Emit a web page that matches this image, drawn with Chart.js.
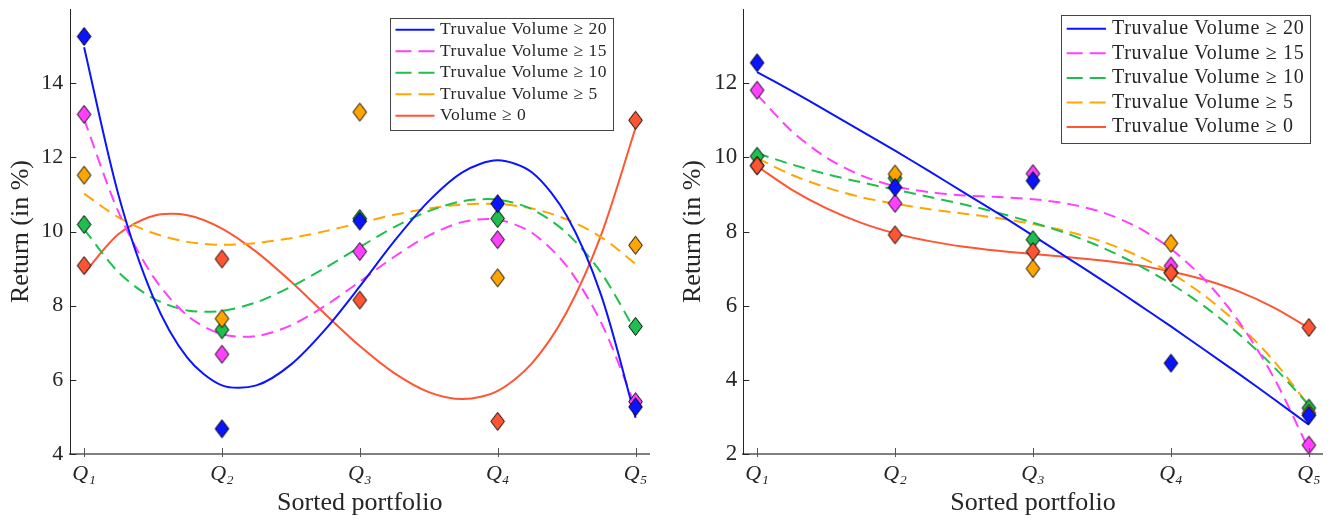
<!DOCTYPE html>
<html>
<head>
<meta charset="utf-8">
<script src="https://cdn.jsdelivr.net/npm/chart.js@4.4.1/dist/chart.umd.min.js"></script>
<style>
    body { margin: 0; background: #fff; overflow: hidden; }
    #wrap { position: relative; width: 1332px; height: 523px; }
    .panel { position: absolute; top: 0; width: 666px; height: 523px; }
</style>
</head>
<body>
<div id="wrap">
    <div class="panel" style="left:0"><canvas id="leftChart" width="666" height="523"></canvas></div>
    <div class="panel" style="left:666px"><canvas id="rightChart" width="666" height="523"></canvas></div>
</div>
<script>
// Quintile axis
const quintileLabels = ['Q₁', 'Q₂', 'Q₃', 'Q₄', 'Q₅'];
const quintileX = [1, 2, 3, 4, 5];
const fitX = [1, 1.25, 1.5, 1.75, 2, 2.25, 2.5, 2.75, 3, 3.25, 3.5, 3.75, 4, 4.25, 4.5, 4.75, 5];

const leftYTicks = [4, 6, 8, 10, 12, 14];
const rightYTicks = [2, 4, 6, 8, 10, 12];

const leftNames = ['Truvalue Volume ≥ 20', 'Truvalue Volume ≥ 15', 'Truvalue Volume ≥ 10', 'Truvalue Volume ≥ 5', 'Volume ≥ 0'];
const rightNames = ['Truvalue Volume ≥ 20', 'Truvalue Volume ≥ 15', 'Truvalue Volume ≥ 10', 'Truvalue Volume ≥ 5', 'Truvalue Volume ≥ 0'];

// Left panel - returns per quintile
const left20 = [15.26, 4.68, 10.28, 10.75, 5.27];
const left15 = [13.16, 6.69, 9.46, 9.78, 5.41];
const left10 = [10.19, 7.35, 10.35, 10.35, 7.44];
const left5 = [11.52, 7.65, 13.22, 8.75, 9.63];
const left0 = [9.08, 9.26, 8.15, 4.88, 13.0];

// Left panel - fitted curves
const left20Fit = [14.97, 10.98, 8.24, 6.59, 5.85, 5.85, 6.41, 7.36, 8.52, 9.74, 10.82, 11.61, 11.92, 11.59, 10.43, 8.29, 4.98];
const left15Fit = [13.03, 10.52, 8.79, 7.73, 7.23, 7.18, 7.47, 8.00, 8.65, 9.32, 9.89, 10.26, 10.32, 9.96, 9.07, 7.55, 5.28];
const left10Fit = [10.06, 8.90, 8.20, 7.87, 7.86, 8.09, 8.51, 9.02, 9.58, 10.12, 10.55, 10.82, 10.86, 10.60, 9.96, 8.89, 7.31];
const left5Fit = [11.02, 10.38, 9.96, 9.72, 9.64, 9.69, 9.82, 10.01, 10.23, 10.45, 10.62, 10.73, 10.74, 10.62, 10.33, 9.85, 9.13];
const left0Fit = [8.87, 9.93, 10.42, 10.44, 10.08, 9.45, 8.65, 7.77, 6.91, 6.18, 5.67, 5.48, 5.70, 6.45, 7.82, 9.90, 12.79];

// Right panel - returns per quintile
const right20 = [12.55, 9.19, 9.37, 4.45, 3.04];
const right15 = [11.81, 8.76, 9.56, 7.07, 2.24];
const right10 = [10.03, 9.44, 7.78, 6.90, 3.24];
const right5 = [9.78, 9.55, 7.00, 7.68, 3.10];
const right0 = [9.77, 7.91, 7.46, 6.88, 5.41];

// Right panel - fitted curves
const right20Fit = [12.30, 11.79, 11.26, 10.72, 10.18, 9.62, 9.05, 8.48, 7.89, 7.29, 6.69, 6.07, 5.44, 4.79, 4.14, 3.47, 2.79];
const right15Fit = [11.69, 10.71, 10.00, 9.52, 9.22, 9.06, 8.97, 8.93, 8.87, 8.75, 8.52, 8.13, 7.53, 6.68, 5.53, 4.03, 2.12];
const right10Fit = [10.11, 9.81, 9.55, 9.33, 9.13, 8.93, 8.73, 8.50, 8.24, 7.94, 7.57, 7.12, 6.59, 5.96, 5.21, 4.33, 3.32];
const right5Fit = [9.98, 9.53, 9.19, 8.93, 8.75, 8.60, 8.48, 8.36, 8.20, 8.00, 7.73, 7.36, 6.88, 6.25, 5.46, 4.49, 3.30];
const right0Fit = [9.76, 9.13, 8.63, 8.24, 7.95, 7.74, 7.59, 7.48, 7.39, 7.31, 7.22, 7.10, 6.92, 6.69, 6.37, 5.94, 5.40];

const serif = "'Liberation Serif', 'DejaVu Serif', serif";
const textColor = '#262626';

// blue, magenta, green, orange, red
const seriesStyle = [
    { color: '#0a14ff', dash: [], legendDash: [], markerOrder: 2 },
    { color: '#ff40ff', dash: [12, 7], legendDash: [16, 7], markerOrder: 3 },
    { color: '#1fbf4f', dash: [12, 7], legendDash: [16, 7], markerOrder: 5 },
    { color: '#ffa500', dash: [12, 7], legendDash: [16, 7], markerOrder: 4 },
    { color: '#ff5533', dash: [], legendDash: [], markerOrder: 1 }
];

// MATLAB style diamond marker (taller than wide)
function diamond(color) {
    const c = document.createElement('canvas');
    c.width = 17;
    c.height = 21;
    const g = c.getContext('2d');
    g.beginPath();
    g.moveTo(8.5, 1.5);
    g.lineTo(15.3, 10.5);
    g.lineTo(8.5, 19.5);
    g.lineTo(1.7, 10.5);
    g.closePath();
    g.fillStyle = color;
    g.fill();
    g.lineWidth = 1;
    g.strokeStyle = '#000';
    g.stroke();
    return c;
}

function buildDatasets(points, fits, names) {
    const sets = [];
    fits.forEach((fit, i) => {
        const st = seriesStyle[i];
        sets.push({
            label: names[i],
            data: fitX.map((x, k) => ({ x: x, y: fit[k] })),
            showLine: true,
            borderColor: st.color,
            borderWidth: 2,
            borderDash: st.dash,
            legendDash: st.legendDash,
            pointRadius: 0,
            tension: 0.3,
            order: 20 + i,
            isCurve: true
        });
    });
    points.forEach((vals, i) => {
        const st = seriesStyle[i];
        sets.push({
            label: names[i] + ' (data)',
            data: quintileX.map((x, k) => ({ x: x, y: vals[k] })),
            showLine: false,
            pointStyle: diamond(st.color),
            pointRadius: 8,
            order: st.markerOrder
        });
    });
    return sets;
}

// ticks drawn inward like the original
const innerTicks = {
    id: 'innerTicks',
    afterDraw(chart) {
        const { ctx, chartArea, scales } = chart;
        ctx.save();
        ctx.lineWidth = 1;
        ctx.strokeStyle = '#262626';
        scales.y.ticks.forEach(t => {
            const py = Math.round(scales.y.getPixelForValue(t.value)) + 0.5;
            ctx.beginPath();
            ctx.moveTo(chartArea.left, py);
            ctx.lineTo(chartArea.left + 6, py);
            ctx.stroke();
        });
        ctx.strokeStyle = '#555';
        scales.x.ticks.forEach(t => {
            const px = Math.round(scales.x.getPixelForValue(t.value)) + 0.5;
            ctx.beginPath();
            ctx.moveTo(px, chartArea.bottom - 6);
            ctx.lineTo(px, chartArea.bottom + 3);
            ctx.stroke();
        });
        ctx.restore();
    }
};

// legend box inside the plot, top right
const boxLegend = {
    id: 'boxLegend',
    afterDraw(chart, args, opts) {
        const { ctx, chartArea } = chart;
        const curves = chart.data.datasets.filter(d => d.isCurve);
        ctx.save();
        ctx.font = opts.fontSize + 'px ' + serif;
        ctx.letterSpacing = opts.spacing + 'px';
        const textW = Math.max(...curves.map(d => ctx.measureText(d.label).width));
        const w = opts.textGap + textW + opts.padRight;
        const h = opts.rowH * curves.length + opts.padTop + opts.padBottom;
        const x0 = Math.round(chartArea.right - opts.right - w);
        const y0 = Math.round(chartArea.top + opts.top);
        ctx.fillStyle = '#fff';
        ctx.fillRect(x0, y0, w, h);
        ctx.strokeStyle = '#444';
        ctx.lineWidth = 1;
        ctx.strokeRect(x0 + 0.5, y0 + 0.5, Math.round(w), Math.round(h));
        curves.forEach((d, i) => {
            const cy = y0 + opts.padTop + opts.rowH * (i + 0.5);
            ctx.beginPath();
            ctx.setLineDash(d.legendDash);
            ctx.strokeStyle = d.borderColor;
            ctx.lineWidth = 2;
            ctx.moveTo(x0 + opts.lineStart, cy);
            ctx.lineTo(x0 + opts.lineEnd, cy);
            ctx.stroke();
            ctx.setLineDash([]);
            ctx.fillStyle = textColor;
            ctx.textBaseline = 'middle';
            ctx.textAlign = 'left';
            ctx.fillText(d.label, x0 + opts.textGap, cy);
        });
        ctx.restore();
    }
};

function makeChart(id, datasets, s) {
    return new Chart(document.getElementById(id), {
        type: 'scatter',
        data: { datasets: datasets },
        plugins: [innerTicks, boxLegend],
        options: {
            responsive: false,
            animation: false,
            devicePixelRatio: 1,
            layout: { padding: { left: 0, top: 3, right: s.padRight, bottom: 0 } },
            plugins: {
                legend: { display: false },
                tooltip: { enabled: false },
                boxLegend: s.legend
            },
            scales: {
                x: {
                    type: 'linear',
                    min: 0.9,
                    max: 5.1,
                    afterBuildTicks: scale => { scale.ticks = quintileX.map(v => ({ value: v })); },
                    ticks: {
                        callback: (v, i) => quintileLabels[i],
                        font: { family: serif, size: 22, style: 'italic' },
                        color: textColor,
                        padding: 7,
                        maxRotation: 0,
                        autoSkip: false
                    },
                    grid: { display: false, drawTicks: false },
                    border: { display: true, color: '#808080', width: 2 },
                    title: {
                        display: true,
                        text: 'Sorted portfolio',
                        font: { family: serif, size: 26, lineHeight: 1 },
                        color: textColor,
                        padding: { top: 0, bottom: 7 }
                    },
                    afterFit: scale => {
                        scale.height = 69;
                        scale.paddingLeft = 0;
                        scale.paddingRight = 0;
                    }
                },
                y: {
                    type: 'linear',
                    min: s.yMin,
                    max: s.yMax,
                    afterBuildTicks: scale => { scale.ticks = s.yTicks.map(v => ({ value: v })); },
                    ticks: {
                        font: { family: serif, size: s.tickSize },
                        color: textColor,
                        padding: s.tickPad
                    },
                    grid: { display: false, drawTicks: false },
                    border: { display: true, color: '#262626', width: 1 },
                    title: {
                        display: true,
                        text: 'Return (in %)',
                        font: { family: serif, size: 26, lineHeight: 1 },
                        color: textColor,
                        padding: { top: s.titlePad, bottom: 0 }
                    },
                    afterFit: scale => {
                        scale.width = s.yWidth;
                        scale.paddingTop = 0;
                        scale.paddingBottom = 0;
                    }
                }
            }
        }
    });
}

makeChart('leftChart',
    buildDatasets([left20, left15, left10, left5, left0],
        [left20Fit, left15Fit, left10Fit, left5Fit, left0Fit], leftNames),
    {
        padRight: 16.7, yMin: 4, yMax: 16, yTicks: leftYTicks, tickSize: 22, tickPad: 7,
        titlePad: 8, yWidth: 70.3,
        legend: { right: 36.3, top: 8.5, fontSize: 17.5, spacing: 0.5, rowH: 21.5, padTop: 1, padBottom: 3.5,
                  lineStart: 5.5, lineEnd: 44.5, textGap: 50, padRight: 6 }
    });

makeChart('rightChart',
    buildDatasets([right20, right15, right10, right5, right0],
        [right20Fit, right15Fit, right10Fit, right5Fit, right0Fit], rightNames),
    {
        padRight: 9.3, yMin: 2, yMax: 14, yTicks: rightYTicks, tickSize: 23, tickPad: 6,
        titlePad: 14, yWidth: 77.3,
        legend: { right: 12.4, top: 6, fontSize: 20, spacing: 0.65, rowH: 24.6, padTop: 1.4, padBottom: 3.4,
                  lineStart: 5.7, lineEnd: 45, textGap: 51, padRight: 6 }
    });
</script>
</body>
</html>
